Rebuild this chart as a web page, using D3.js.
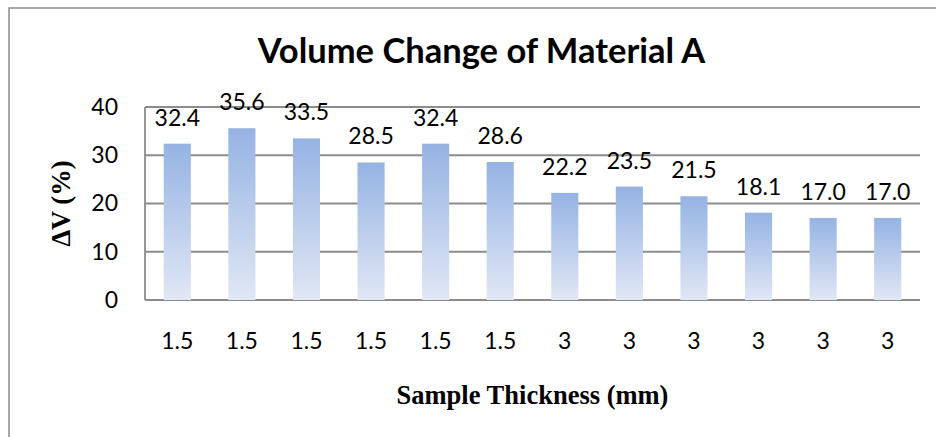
<!DOCTYPE html>
<html><head><meta charset="utf-8">
<script src="https://cdn.jsdelivr.net/npm/d3@7"></script>
<style>body{margin:0;background:#fff}svg{display:block}</style>
</head><body>
<svg id="c" width="936" height="437"></svg>
<script>
const categories = ["1.5","1.5","1.5","1.5","1.5","1.5","3","3","3","3","3","3"];
const values = [32.4,35.6,33.5,28.5,32.4,28.6,22.2,23.5,21.5,18.1,17.0,17.0];
const yTicks = [0,10,20,30,40];
const title = "Volume Change of Material A";
const xTitle = "Sample Thickness (mm)";
const yTitle = "ΔV (%)";

const svg = d3.select("#c");
const W = 936, H = 437;
const m = {left:145, right:16, top:107, bottom:137};
const iw = W - m.left - m.right, ih = H - m.top - m.bottom;

svg.append("rect").attr("x",9).attr("y",8).attr("width",W).attr("height",H)
  .attr("fill","#fff").attr("stroke","#8c8c8c").attr("stroke-width",1.5);

const defs = svg.append("defs");
const lg = defs.append("linearGradient").attr("id","g").attr("x1",0).attr("y1",0).attr("x2",0).attr("y2",1);
lg.append("stop").attr("offset","0%").attr("stop-color","#95b3e3");
lg.append("stop").attr("offset","100%").attr("stop-color","#e1e7f5");

const g = svg.append("g").attr("transform",`translate(${m.left},${m.top})`);
const x = d3.scaleBand().domain(d3.range(categories.length)).range([0,iw]).paddingInner(0.58).paddingOuter(0.29);
const y = d3.scaleLinear().domain([0,40]).range([ih,0]);

// gridlines
g.append("g").selectAll("line").data(yTicks).join("line")
  .attr("x1",0).attr("x2",iw).attr("y1",d=>y(d)).attr("y2",d=>y(d))
  .attr("stroke","#8c8c8c").attr("stroke-width",1.8);
g.append("line").attr("x1",0).attr("x2",0).attr("y1",0).attr("y2",ih)
  .attr("stroke","#8c8c8c").attr("stroke-width",1.8);

// y axis
const ya = g.append("g").call(d3.axisLeft(y).tickValues(yTicks).tickSize(0).tickPadding(27));
ya.select(".domain").remove();
ya.selectAll("text").attr("font-family","Lato").attr("font-size",23).attr("fill","#000");

// x axis
const xa = g.append("g").attr("transform",`translate(0,${ih})`)
  .call(d3.axisBottom(x).tickFormat(i=>categories[i]).tickSize(0).tickPadding(33));
xa.select(".domain").remove();
xa.selectAll("text").attr("font-family","Lato").attr("font-size",23).attr("fill","#000");

// bars
g.selectAll("rect.bar").data(values).join("rect").attr("class","bar")
  .attr("x",(d,i)=>x(i)).attr("width",x.bandwidth())
  .attr("y",d=>y(d)).attr("height",d=>ih-y(d)).attr("fill","url(#g)");

// labels
g.selectAll("text.lab").data(values).join("text").attr("class","lab")
  .attr("x",(d,i)=>x(i)+x.bandwidth()/2).attr("y",d=>y(d)-18)
  .attr("text-anchor","middle").attr("font-family","Lato").attr("font-size",23).attr("fill","#000")
  .text(d=>d.toFixed(1));

// titles
svg.append("text").attr("x",(253+710)/2).attr("y",63).attr("text-anchor","middle")
  .attr("font-family","Lato").attr("font-weight","bold").attr("font-size",34.5).attr("fill","#000").text(title);
svg.append("text").attr("x",m.left+iw/2).attr("y",404).attr("text-anchor","middle")
  .attr("font-family","Liberation Serif").attr("font-weight","bold").attr("font-size",26.5).attr("fill","#000").text(xTitle);
svg.append("text").attr("transform",`translate(70,${m.top+ih/2}) rotate(-90)`).attr("text-anchor","middle")
  .attr("font-family","Liberation Serif").attr("font-weight","bold").attr("font-size",26.5).attr("fill","#000").text(yTitle);
</script>
</body></html>
